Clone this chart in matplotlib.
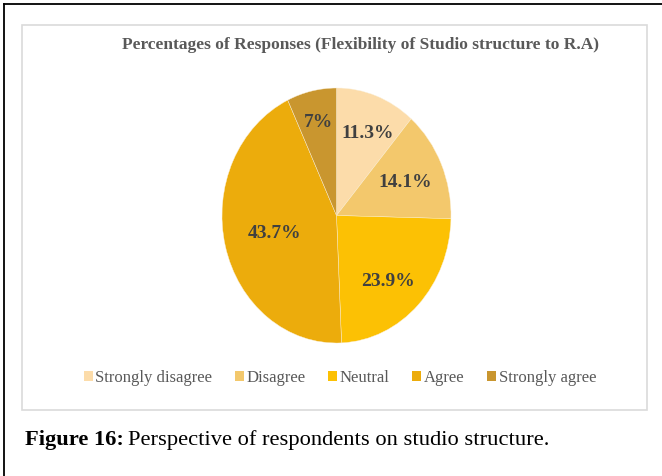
import matplotlib
matplotlib.use("Agg")
import matplotlib.pyplot as plt
from matplotlib.patches import Rectangle
from matplotlib.lines import Line2D

# Survey responses: flexibility of studio structure to R.A
categories = ["Strongly disagree", "Disagree", "Neutral", "Agree", "Strongly agree"]
percentages = [11.3, 14.1, 23.9, 43.7, 7]
colors = ["#FCDCAA", "#F3C86C", "#FCC104", "#ECAC0C", "#C9962F"]
title = "Percentages of Responses (Flexibility of Studio structure to R.A)"

# label placement inside each wedge (axes data units)
label_xy = [(0.275, 0.647), (0.60, 0.255), (0.45, -0.52), (-0.54, -0.14), (-0.16, 0.73)]

W, H = 662, 476
fig = plt.figure(figsize=(W / 100, H / 100), dpi=100)
fig.patch.set_facecolor("white")

serif = ["Liberation Serif", "DejaVu Serif"]

# page border lines (top and left)
fig.add_artist(Line2D([4 / W, 1.0], [1 - 4 / H, 1 - 4 / H], color="black", lw=1.3,
                      transform=fig.transFigure))
fig.add_artist(Line2D([4 / W, 4 / W], [0.0, 1 - 4 / H], color="black", lw=1.3,
                      transform=fig.transFigure))

# chart frame
fx0, fy0, fx1, fy1 = 22, 25, 647, 410
fig.add_artist(Rectangle((fx0 / W, 1 - fy1 / H), (fx1 - fx0) / W, (fy1 - fy0) / H,
                         transform=fig.transFigure, fill=False,
                         edgecolor="#DADADA", lw=1.2))

# pie (slightly taller than wide)
cx, cy, rx, ry = 336.5, 215.5, 114.5, 127.5
ax = fig.add_axes([(cx - rx) / W, 1 - (cy + ry) / H, 2 * rx / W, 2 * ry / H])
wedges, _ = ax.pie(percentages, colors=colors, startangle=90, counterclock=False,
                   radius=1.0, wedgeprops=dict(edgecolor="#FBEFD6", linewidth=0.3))
ax.set_aspect("auto")
ax.set_xlim(-1, 1)
ax.set_ylim(-1, 1)
ax.axis("off")

for val, (x, y) in zip(percentages, label_xy):
    txt = f"{val:g}%"
    ax.text(x, y, txt, ha="center", va="center", fontsize=14, fontweight="bold",
            family=serif, color="#404040")

# title
fig.text(360 / W, 1 - 45 / H, title, ha="center", va="center", fontsize=12.5,
         fontweight="bold", family=serif, color="#595959")

# legend
handles = [Rectangle((0, 0), 1, 1, facecolor=c, edgecolor="none") for c in colors]
fig.legend(handles, categories, loc="center", bbox_to_anchor=(340 / W, 1 - 378 / H),
           ncol=5, frameon=False, handlelength=0.55, handleheight=0.55,
           handletextpad=0.15, columnspacing=1.35,
           prop=dict(family=serif, size=12), labelcolor="#595959")

# caption
t1 = fig.text(25 / W, 1 - 440 / H, "Figure 16:", ha="left", va="center", fontsize=16.2,
              fontweight="bold", family=serif, color="black")
fig.canvas.draw()
bb = t1.get_window_extent()
fig.text(bb.x1 / W + 4 / W, 1 - 440 / H, "Perspective of respondents on studio structure.",
         ha="left", va="center", fontsize=16.2, family=serif, color="black")

fig.savefig("out.png", dpi=100, facecolor="white")
